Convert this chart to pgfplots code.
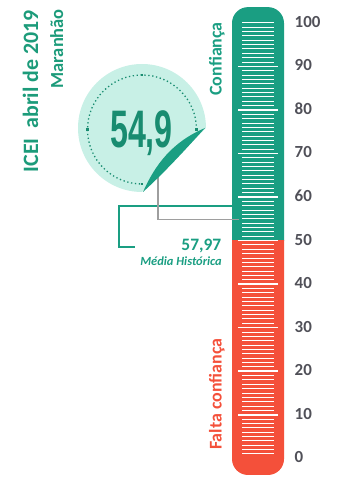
\documentclass[border=0pt]{standalone}
\usepackage{pgfplots}
\pgfplotsset{compat=1.18}
\usepackage{fontspec}
\setmainfont{Carlito}
\newfontfamily\numfont{Liberation Sans}
\definecolor{tgreen}{RGB}{26,158,130}
\definecolor{tred}{RGB}{244,80,58}
\definecolor{mint}{RGB}{200,240,230}
\definecolor{dgreen}{RGB}{24,140,112}
\definecolor{titlegreen}{RGB}{28,155,122}
\definecolor{labgray}{RGB}{80,80,88}
\definecolor{linegray}{RGB}{158,158,158}
\begin{document}
\begin{tikzpicture}
\useasboundingbox (0,0) rectangle (343bp,477bp);
\begin{axis}[at={(0,0)}, anchor=south west, scale only axis,
  width=294.5bp, height=477bp,
  xmin=0, xmax=294.5, ymin=-4.294, ymax=105.235, clip=false,
  axis line style={draw=none}, tick style={draw=none},
  xtick=\empty, ytick={0,10,...,100},
  yticklabel pos=right,
  yticklabel style={anchor=west, inner sep=0pt, yshift=1bp, font=\bfseries\fontsize{17}{17}\selectfont, text=labgray},
  /pgf/number format/assume math mode=true]
% thermometer body
\begin{scope}
\clip (axis cs:200,50) rectangle (axis cs:300,106);
\fill[tgreen, rounded corners=16bp] (axis cs:232,40) rectangle (axis cs:284,103.6);
\end{scope}
\begin{scope}
\clip (axis cs:200,-5) rectangle (axis cs:300,50);
\fill[tred, rounded corners=16bp] (axis cs:232,-3.83) rectangle (axis cs:284,60);
\end{scope}
% scale lines
\pgfplotsinvokeforeach{1,...,100}{\draw[white, line width=0.9bp] (axis cs:242,#1) -- (axis cs:274,#1);}
\pgfplotsinvokeforeach{10,20,...,90}{\draw[white, line width=1.6bp] (axis cs:238,#1) -- (axis cs:278,#1);}
% historical mean and current value
\addplot[tgreen, line width=1.5bp, no marks] coordinates {(232,57.97) (119,57.97) (119,48.5) (135,48.5)};
\addplot[linegray, line width=1.3bp, no marks] coordinates {(158,65) (158,54.9) (239,54.9)};
\end{axis}
\begin{scope}[x=1bp,y=-1bp,shift={(0bp,477bp)}]
% badge
\fill[mint] (206,128) arc[start angle=0, end angle=-270, radius=64] -- cycle;
\draw[dgreen, line width=1.3bp, dash pattern=on 1.3bp off 2.6bp] (196.5,129.5) arc[start angle=0, end angle=-270, radius=54.5];
\foreach \p in {(196.5,129.5),(142,75),(87.5,129.5),(142,184)}
  \fill[dgreen] \p ++(-1.4,-1.4) rectangle ++(2.8,2.8);
\fill[tgreen] (205,128) .. controls (172,142) and (155,165) .. (143,192)
   .. controls (165,172) and (185,150) .. (205,128) -- cycle;
\node[anchor=base, inner sep=0pt, xscale=0.61, text=dgreen, font=\numfont\bfseries\fontsize{53}{53}\selectfont] at (141.5,148) {54,9};
% texts
\node[rotate=90, anchor=base east, inner sep=0pt, text=titlegreen, font=\bfseries\fontsize{22}{22}\selectfont] at (38,10) {ICEI\ \ abril de 2019};
\node[rotate=90, anchor=base east, inner sep=0pt, text=titlegreen, font=\bfseries\fontsize{18.5}{18.5}\selectfont] at (63,9) {Maranhão};
\node[rotate=90, anchor=base east, inner sep=0pt, text=tgreen, font=\bfseries\fontsize{18}{18}\selectfont] at (221.5,22) {Confiança};
\node[rotate=90, anchor=base west, inner sep=0pt, text=tred, font=\bfseries\fontsize{18}{18}\selectfont] at (221.5,450) {Falta confiança};
\node[anchor=base east, inner sep=0pt, text=tgreen, font=\bfseries\fontsize{17.5}{17.5}\selectfont] at (221.5,251) {57,97};
\node[anchor=base east, inner sep=0pt, text=tgreen, font=\bfseries\itshape\fontsize{12.5}{12.5}\selectfont] at (222,265.5) {Média Histórica};
\end{scope}
\end{tikzpicture}
\end{document}
